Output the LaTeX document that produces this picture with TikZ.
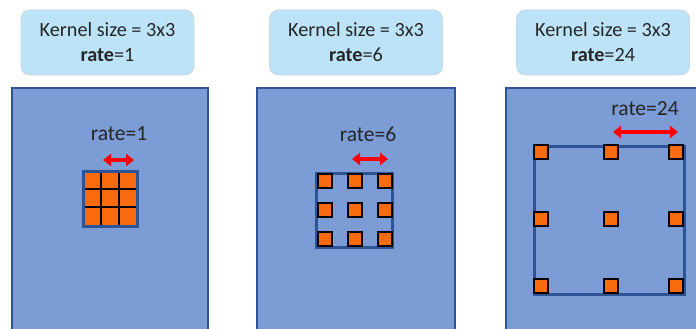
\documentclass[tikz,border=0pt]{standalone}
\usepackage{fontspec}
\setmainfont{Carlito}
\usetikzlibrary{arrows.meta}
\definecolor{fieldfill}{HTML}{7B9CD5}
\definecolor{fieldedge}{HTML}{2F5496}
\definecolor{tagfill}{HTML}{BDE3F9}
\definecolor{tagedge}{HTML}{C9D6DE}
\definecolor{cellfill}{HTML}{FA6A0F}
\definecolor{txt}{HTML}{262626}
\begin{document}
\begin{tikzpicture}[x=1pt,y=-1pt,
  tag/.style={draw=tagedge,fill=tagfill,rounded corners=9pt,line width=0.8pt,
    minimum width=173pt,minimum height=65pt,align=center,text=txt,
    font=\fontsize{20.2}{25}\selectfont,inner sep=0pt},
  field/.style={draw=fieldedge,fill=fieldfill,line width=2pt},
  frame/.style={draw=fieldedge,line width=3pt},
  tap/.style={draw=black,fill=cellfill,line width=2.4pt,minimum size=14pt,inner sep=0pt},
  ratelbl/.style={text=txt,font=\fontsize{21.5}{24}\selectfont,inner sep=0pt},
  span/.style={red,line width=3.6pt,{Triangle[length=8pt,width=12pt]}-{Triangle[length=8pt,width=12pt]}}]
\useasboundingbox (0,0) rectangle (696,329);
\clip (0,0) rectangle (696,329);
\fill[white] (0,0) rectangle (696,329);

% captions
\node[tag] (t1) at (107.5,42.5) {Kernel size = 3x3\\\textbf{rate}=1};
\node[tag] (t2) at (356,42.5) {Kernel size = 3x3\\\textbf{rate}=6};
\node[tag] (t3) at (603,42.5) {Kernel size = 3x3\\\textbf{rate}=24};

% feature maps
\draw[field] (12,88) rectangle (208,340);
\draw[field] (257,88) rectangle (455,340);
\draw[field] (506,88) rectangle (710,340);

% rate = 1: dense 3x3 kernel
\node[ratelbl] (r1) at (119,134) {rate=1};
\coordinate (a1l) at (103,160);
\coordinate (a1r) at (134,160);
\draw[span] (a1l) -- (a1r);
\fill[cellfill] (83,171) rectangle (137,226);
\draw[black,line width=2pt] (101,171) -- (101,226) (119,171) -- (119,226)
  (83,189) -- (137,189) (83,207) -- (137,207);
\draw[frame] (83,171) rectangle (137,226);

% rate = 6
\node[ratelbl] (r2) at (368,134) {rate=6};
\coordinate (a2l) at (352,159);
\coordinate (a2r) at (388,159);
\draw[span] (a2l) -- (a2r);
\draw[frame] (316,173) rectangle (392,247);
\foreach \i/\x in {1/325,2/355,3/385}
  \foreach \j/\y in {1/181,2/210,3/239}
    \node[tap] (b\i\j) at (\x,\y) {};

% rate = 24
\node[ratelbl] (r3) at (645,109) {rate=24};
\coordinate (a3l) at (613,132);
\coordinate (a3r) at (678,132);
\draw[span] (a3l) -- (a3r);
\draw[frame] (534,146) rectangle (684,294);
\foreach \i/\x in {1/541,2/611,3/676}
  \foreach \j/\y in {1/152,2/219,3/286}
    \node[tap] (c\i\j) at (\x,\y) {};
\end{tikzpicture}
\end{document}
